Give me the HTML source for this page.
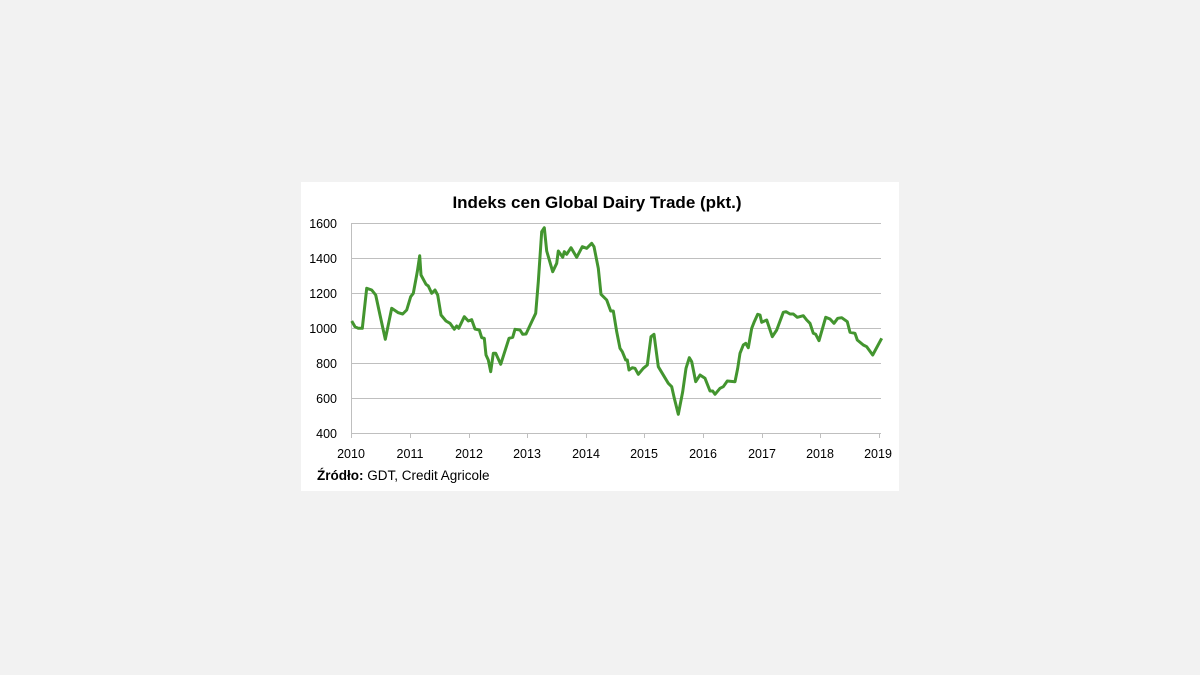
<!DOCTYPE html>
<html><head><meta charset="utf-8"><style>
html,body{margin:0;padding:0;background:#f2f2f2;width:1200px;height:675px;overflow:hidden}
svg{position:absolute;left:0;top:0}
text{font-family:"Liberation Sans","DejaVu Sans",sans-serif}
</style></head><body>
<svg width="1200" height="675" viewBox="0 0 1200 675">
<rect x="301" y="182" width="598" height="309" fill="#fff"/>
<text x="597" y="208" text-anchor="middle" font-size="17" font-weight="bold" fill="#000">Indeks cen Global Dairy Trade (pkt.)</text>
<g stroke="#bfbfbf" stroke-width="1">
<line x1="351" y1="223.5" x2="881" y2="223.5"/>
<line x1="351" y1="258.5" x2="881" y2="258.5"/>
<line x1="351" y1="293.5" x2="881" y2="293.5"/>
<line x1="351" y1="328.5" x2="881" y2="328.5"/>
<line x1="351" y1="363.5" x2="881" y2="363.5"/>
<line x1="351" y1="398.5" x2="881" y2="398.5"/>
<line x1="351" y1="433.5" x2="881" y2="433.5"/>
<line x1="351.5" y1="223" x2="351.5" y2="438"/>
<line x1="410.5" y1="433" x2="410.5" y2="438"/>
<line x1="469.5" y1="433" x2="469.5" y2="438"/>
<line x1="527.5" y1="433" x2="527.5" y2="438"/>
<line x1="586.5" y1="433" x2="586.5" y2="438"/>
<line x1="644.5" y1="433" x2="644.5" y2="438"/>
<line x1="703.5" y1="433" x2="703.5" y2="438"/>
<line x1="762.5" y1="433" x2="762.5" y2="438"/>
<line x1="820.5" y1="433" x2="820.5" y2="438"/>
<line x1="879.5" y1="433" x2="879.5" y2="438"/>
</g>
<g font-size="12.5" fill="#000" text-anchor="end">
<text x="337" y="228">1600</text><text x="337" y="263">1400</text><text x="337" y="298">1200</text>
<text x="337" y="333">1000</text><text x="337" y="368">800</text><text x="337" y="403">600</text><text x="337" y="438">400</text>
</g>
<g font-size="12.5" fill="#000" text-anchor="middle">
<text x="351" y="458">2010</text><text x="410" y="458">2011</text><text x="469" y="458">2012</text>
<text x="527" y="458">2013</text><text x="586" y="458">2014</text><text x="644" y="458">2015</text>
<text x="703" y="458">2016</text><text x="762" y="458">2017</text><text x="820" y="458">2018</text><text x="878" y="458">2019</text>
</g>
<text x="317" y="480" font-size="13.5" fill="#000"><tspan font-weight="bold">Źródło:</tspan> GDT, Credit Agricole</text>
<polyline fill="none" stroke="#43952f" stroke-width="3" stroke-linejoin="round" points="
351.7,321 355,326.7 358.3,328.3 362.3,328.3 366.7,288.3 371.7,290 375.7,295 380,315 385.3,339.3 391.7,308.3 398.3,312.7 402.7,314 406.7,310 410.7,296.7 413.3,293.3 417.3,271.7 419.7,255.7 421,275 426,284.3 428.3,286 431.7,293.3 435,290 437.7,295 441,315 446,321 450,323.3 454.3,329.3 456.7,326 458.7,328.3 464.3,316.7 468.3,321 471.7,319.7 475,329 479.3,330 481.7,337.7 484.3,338.3 486,355 488.3,360 490.7,371.7 493.3,353.3 495.7,353.3 500.7,364.3 509,338.3 512.7,337.3 515,329.3 520,330 522.7,334.3 526,334 531.7,321.7 535.7,313.3 538.3,281.7 541.7,231.7 544.3,227.7 546.7,251 552.7,271.7 556.7,263.3 558.3,251 562.7,257.3 564.3,251.7 566.7,254.3 571,247.7 576.7,257.3 582.3,246.7 586.7,248.3 591.7,243.3 594,246.7 598.3,268.3 601,294.3 606.7,300 610.7,311 613.3,311 616.7,331.7 620,348.3 622.3,351.7 625.7,360 627.3,360 629,370 632.3,367.7 635,368.3 638.3,374.3 643.3,368.3 647.3,365 651,336.7 654,334.3 658.3,366.7 664.3,376.7 668.3,383.3 671.7,386.7 674.3,398.3 678.3,414.3 682.7,391.7 686,368.3 689.3,357.7 691.7,361.7 695.7,381.7 700,375 705,378.3 710,391 712.7,391 715,394.3 720,388.3 723.3,386.7 727.3,381 735,381.7 737.7,368.3 740,353.3 743.3,345 745.7,343.3 748.3,347.7 751.7,328.3 754.3,321.7 757.7,314.3 760,315 761.7,322.3 766.7,320 772.3,336.7 776.7,330 783.3,312.3 786,311.7 790,314 793.3,314 797.3,317.3 803.3,315.7 806.7,320 810,323.3 813.3,333.3 815.7,334.3 819,340.7 825.7,317.3 830,319 834,323.3 837.7,318.3 841.7,317.7 847.3,321.7 850,332.3 855,333.3 857.3,340 863.3,345 866.7,346.7 872.7,355 881.7,338.3"/>
</svg>
</body></html>
